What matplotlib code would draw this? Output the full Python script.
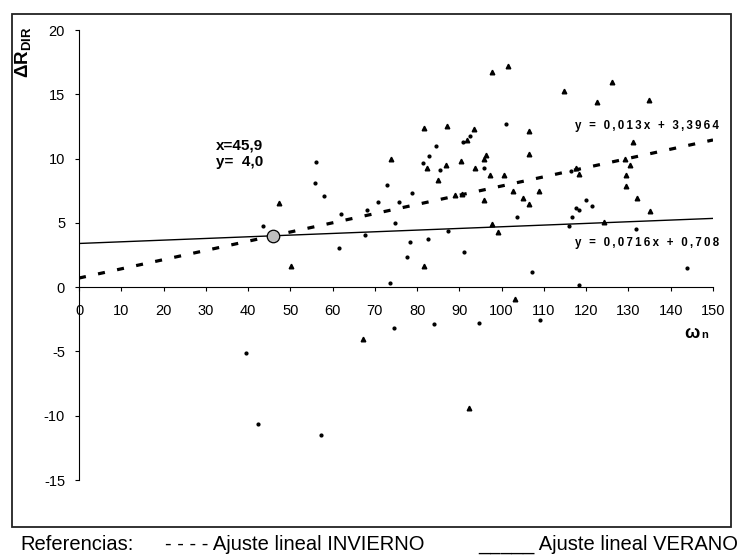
import matplotlib
matplotlib.use("Agg")
import matplotlib.pyplot as plt
import matplotlib.patches as patches
import numpy as np

plt.rcParams['font.family'] = ['Liberation Sans', 'DejaVu Sans']
plt.rcParams['mathtext.fontset'] = 'custom'
plt.rcParams['mathtext.bf'] = 'Liberation Sans:bold'
plt.rcParams['mathtext.rm'] = 'Liberation Sans'
plt.rcParams['axes.unicode_minus'] = False

# datos: serie con triangulos
tri_x = [47.3, 50.2, 67.2, 73.7, 81.7, 82.4, 81.7, 84.9, 86.8, 87.1, 89.0, 90.4,
         90.6, 91.9, 92.2, 93.4, 93.7, 95.8, 96.2, 95.9, 97.2, 97.6, 97.7, 99.1,
         100.5, 101.6, 102.7, 103.1, 105.0, 106.4, 106.4, 106.4, 108.9, 114.7,
         117.5, 118.3, 122.6, 124.1, 126.2, 129.2, 129.5, 129.5, 130.3, 131.0,
         132.0, 134.9, 135.2]
tri_y = [6.56, 1.66, -4.07, 10.0, 12.4, 9.29, 1.66, 8.33, 9.52, 12.5, 7.16, 9.78,
         7.24, 11.44, -9.39, 12.27, 9.29, 9.94, 10.25, 6.77, 8.72, 16.7, 4.9, 4.3,
         8.72, 17.2, 7.5, -0.9, 6.9, 6.46, 12.17, 10.37, 7.5, 15.25,
         9.29, 8.82, 14.42, 5.03, 15.98, 9.96, 8.72, 7.86, 9.52, 11.3,
         6.9, 14.55, 5.89]

# serie con puntos
dot_x = [39.6, 42.4, 43.6, 55.8, 56.1, 57.3, 58.0, 61.6, 62.0, 67.7, 68.1, 70.8,
         72.8, 73.6, 74.6, 74.7, 75.7, 77.5, 78.3, 78.9, 81.5, 82.6, 82.9, 84.1,
         84.4, 85.5, 87.3, 90.9, 91.0, 92.4, 94.6, 95.9, 101.1, 103.6, 107.2,
         109.1, 115.9, 116.4, 116.6, 117.6, 118.4, 118.4, 119.9, 121.4, 131.8, 143.8]
dot_y = [-5.16, -10.66, 4.73, 8.07, 9.7, -11.49, 7.08, 3.06, 5.66, 4.02, 6.02, 6.62,
         7.94, 0.32, -3.14, 4.98, 6.6, 2.33, 3.53, 7.34, 9.62, 3.76, 10.2, -2.9,
         11.0, 9.1, 4.36, 11.26, 2.7, 11.75, -2.78, 9.24, 12.68, 5.42, 1.14,
         -2.57, 4.72, 9.03, 5.42, 6.12, 6.02, 0.2, 6.75, 6.28, 4.49, 1.5]

# ajustes lineales
inv_m, inv_b = 0.0716, 0.708
ver_m, ver_b = 0.013, 3.3964
cruce_x, cruce_y = 45.9, 4.0

x_ticks = list(range(0, 151, 10))
y_ticks = [-15, -10, -5, 0, 5, 10, 15, 20]

fig = plt.figure(figsize=(7.44, 5.59), dpi=100)
fig.patches.append(patches.Rectangle((12 / 744, 1 - 527 / 559), 719 / 744, 513 / 559,
                                     transform=fig.transFigure, fill=False,
                                     edgecolor='#222222', linewidth=1.3))

ax = fig.add_axes([79 / 744, 1 - 480 / 559, 634 / 744, 450 / 559])
ax.set_xlim(0, 150)
ax.set_ylim(-15, 20)

xl = np.array([0, 150])
ax.plot(xl, ver_m * xl + ver_b, color='black', linewidth=1.0, zorder=2)
ax.plot(xl, inv_m * xl + inv_b, color='black', linewidth=2.3, dashes=(2.2, 3.9), zorder=2)

ax.plot(tri_x, tri_y, '^', color='black', markersize=3.3, linestyle='none', zorder=3)
ax.plot(dot_x, dot_y, 'o', color='black', markersize=2.0, linestyle='none', zorder=3)

ax.plot([cruce_x], [cruce_y], 'o', markersize=9, markerfacecolor='#bfbfbf',
        markeredgecolor='black', markeredgewidth=0.9, zorder=4)
ax.text(32.3, 9.2, 'x=45,9\ny=  4,0', fontsize=11, fontweight='bold', va='bottom',
        linespacing=1.25)

def espaciado(s):
    return '\u2009'.join(s)

ax.text(151.5, 12.55, espaciado('y = 0,013x + 3,3964'), fontsize=8.3, fontweight='bold',
        ha='right', va='center')
ax.text(151.5, 3.4, espaciado('y = 0,0716x + 0,708'), fontsize=8.3, fontweight='bold',
        ha='right', va='center')

# ejes
for s in ['top', 'right']:
    ax.spines[s].set_visible(False)
ax.spines['bottom'].set_position(('data', 0))
ax.spines['left'].set_linewidth(0.8)
ax.spines['bottom'].set_linewidth(0.8)
ax.set_xticks(x_ticks)
ax.set_yticks(y_ticks)
ax.tick_params(axis='x', direction='out', length=3, width=0.8, pad=9, labelsize=10.5)
ax.tick_params(axis='y', direction='out', length=3, width=0.8, pad=7, labelsize=10.5)

ax.text(143.2, -3.6, r'$\mathbf{\omega}$', fontsize=13, va='center', ha='left')
ax.text(147.3, -3.75, 'n', fontsize=8, fontweight='bold', va='center', ha='left')
fig.text(23 / 744, 1 - 52 / 559, r'$\mathbf{\Delta R_{DIR}}$', fontsize=13.5,
         rotation=90, ha='center', va='center')

# referencias al pie, todas sobre la misma linea base
yl = 1 - 550 / 559
fig.text(20 / 744, yl, 'Referencias:', fontsize=14.5, va='baseline')
fig.text(165 / 744, yl, '- - - - Ajuste lineal INVIERNO', fontsize=14.5, va='baseline')
fig.text(478 / 744, yl, '_____ Ajuste lineal VERANO', fontsize=14.5, va='baseline')

fig.savefig('out.png', dpi=100)
